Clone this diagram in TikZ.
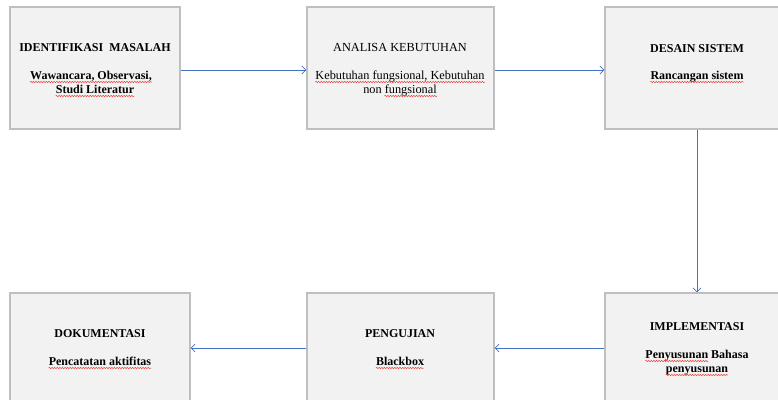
\documentclass[tikz,border=0pt]{standalone}
\usepackage{fontspec}
\setmainfont{Liberation Serif}
\usetikzlibrary{arrows.meta,decorations.pathmorphing,calc}
\definecolor{boxfill}{HTML}{F2F2F2}
\definecolor{boxline}{HTML}{BFBFBF}
\definecolor{arrowblue}{HTML}{4472C4}
\definecolor{inkc}{HTML}{000000}
\definecolor{squigc}{HTML}{F04040}
\begin{document}
\begin{tikzpicture}[x=1pt,y=-1pt,
  box/.style={draw=boxline, fill=boxfill, line width=1.2pt, minimum width=#1, minimum height=122pt, inner sep=0pt},
  ttl/.style={anchor=base, inner sep=0pt, text=inkc, font=\fontsize{12}{14}\selectfont\bfseries},
  ttlr/.style={anchor=base, inner sep=0pt, text=inkc, font=\fontsize{12.3}{14}\selectfont},
  flow/.style={draw=arrowblue, line width=0.8pt, -{Straight Barb[length=4pt,width=8pt]}},
  squig/.style={draw=squigc, line width=0.5pt, decorate, decoration={snake, amplitude=0.7pt, segment length=2.6pt}}]
\useasboundingbox (0,0) rectangle (778,399);
\clip (0,0) rectangle (778,399);
% boxes
\node[box=170pt] (b1) at (95,68) {};
\node[box=187pt] (b2) at (400.5,68) {};
\node[box=184pt] (b3) at (697,68) {};
\node[box=180pt] (b4) at (100,354) {};
\node[box=187pt] (b5) at (400.5,354) {};
\node[box=184pt] (b6) at (697,354) {};
% texts
\node[ttl] (t1a) at (95,51) {IDENTIFIKASI\ \ MASALAH};
\node[ttl] (t1b) at (91,79) {Wawancara, Observasi,};
\node[ttl] (t1c) at (95,93) {Studi Literatur};
\node[ttlr] (t2a) at (400,51) {ANALISA KEBUTUHAN};
\node[ttlr] (t2b) at (400,79) {Kebutuhan fungsional, Kebutuhan};
\node[ttlr] (t2c) at (400,93) {non fungsional};
\node[ttl] (t3a) at (697,52) {DESAIN SISTEM};
\node[ttl] (t3b) at (697,79) {Rancangan sistem};
\node[ttl] (t4a) at (100,337) {DOKUMENTASI};
\node[ttl] (t4b) at (100,365) {Pencatatan aktifitas};
\node[ttl] (t5a) at (400,337) {PENGUJIAN};
\node[ttl] (t5b) at (400,365) {Blackbox};
\node[ttl] (t6a) at (697,330) {IMPLEMENTASI};
\node[ttl] (t6b) at (697,358) {Penyusunan Bahasa};
\node[ttl] (t6c) at (697,372) {penyusunan};
% spelling squiggles
\draw[squig] ([yshift=-3pt]t1b.base west) -- ([yshift=-3pt]t1b.base east);
\draw[squig] ([yshift=-3pt]t1c.base west) -- ([yshift=-3pt]t1c.base east);
\draw[squig] ([yshift=-3pt]t2b.base west) -- ([yshift=-3pt]t2b.base east);
\draw[squig] ([yshift=-3pt]$(t2c.base west)!0.29!(t2c.base east)$) -- ([yshift=-3pt]t2c.base east);
\draw[squig] ([yshift=-3pt]t3b.base west) -- ([yshift=-3pt]t3b.base east);
\draw[squig] ([yshift=-3pt]t4b.base west) -- ([yshift=-3pt]t4b.base east);
\draw[squig] ([yshift=-3pt]t5b.base west) -- ([yshift=-3pt]t5b.base east);
\draw[squig] ([yshift=-3pt]t6b.base west) -- ([yshift=-3pt]$(t6b.base west)!0.61!(t6b.base east)$);
\draw[squig] ([yshift=-3pt]t6c.base west) -- ([yshift=-3pt]t6c.base east);
% connectors
\draw[flow] ([yshift=-2pt]b1.east) -- ([yshift=-2pt]b2.west);
\draw[flow] ([yshift=-2pt]b2.east) -- ([yshift=-2pt]b3.west);
\draw[flow] (b3.south) -- (b6.north);
\draw[flow] ([yshift=6pt]b6.west) -- ([yshift=6pt]b5.east);
\draw[flow] ([yshift=6pt]b5.west) -- ([yshift=6pt]b4.east);
\end{tikzpicture}
\end{document}
